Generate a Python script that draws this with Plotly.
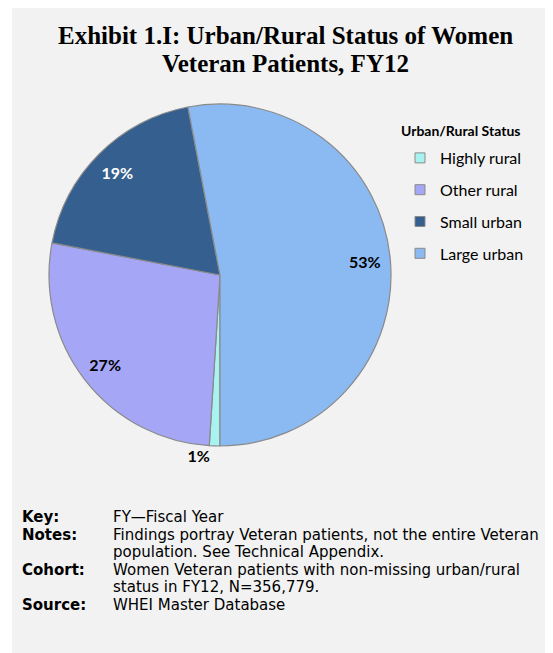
import plotly.graph_objects as go

categories = ["Highly rural", "Other rural", "Small urban", "Large urban"]
shares = [1, 27, 19, 53]
colors = ["#a8f2f0", "#a5a6f6", "#355f8e", "#8bbaf3"]
text_colors = ["black", "black", "white", "black"]
text_positions = ["outside", "inside", "inside", "inside"]

note_labels = ["Key:", "Notes:", "", "Cohort:", "", "Source:"]
note_values = [
    "FY\u2014Fiscal Year",
    "Findings portray Veteran patients, not the entire Veteran",
    "population. See Technical Appendix.",
    "Women Veteran patients with non-missing urban/rural",
    "status in FY12, N=356,779.",
    "WHEI Master Database",
]

OFF = 8  # page body margin
W, H = 545, 645
FONT = "Lato, 'Open Sans', sans-serif"
NOTE_FONT = "'DejaVu Sans', sans-serif"


def px(x):
    return (x - OFF) / W


def py(y):
    return 1 - (y - OFF) / H


pie_domain = dict(x=[px(49), px(391)], y=[py(446), py(104)])

fig = go.Figure()

fig.add_trace(go.Pie(
    labels=categories,
    values=shares,
    sort=False,
    direction="clockwise",
    rotation=180,
    marker=dict(colors=colors, line=dict(color="#8a8a8a", width=1.2)),
    textinfo="none",
    showlegend=False,
    hoverinfo="label+percent",
    domain=pie_domain,
))

# label layer: same slices, placed in an outer ring so labels sit near the rim
fig.add_trace(go.Pie(
    labels=categories,
    values=shares,
    sort=False,
    direction="clockwise",
    rotation=180,
    hole=0.7,
    marker=dict(colors=["rgba(0,0,0,0)"] * len(categories), line=dict(width=0)),
    texttemplate="<b>%{value}%</b>",
    textposition=text_positions,
    insidetextorientation="horizontal",
    insidetextfont=dict(color=text_colors, size=16, family=FONT),
    outsidetextfont=dict(color="black", size=16, family=FONT),
    showlegend=False,
    hoverinfo="skip",
    domain=pie_domain,
))

# legend entries (one group per category for spacing)
for cat, col in zip(categories, colors):
    fig.add_trace(go.Scatter(
        x=[None], y=[None], mode="markers", name=cat, legendgroup=cat,
        marker=dict(symbol="square", size=10, color=col, line=dict(color="#8a8a8a", width=1)),
    ))

fig.add_shape(type="rect", xref="paper", yref="paper",
              x0=px(12), x1=1.02, y0=-0.02, y1=py(7),
              fillcolor="#f2f2f2", line=dict(width=0), layer="below")

title_lines = ["Exhibit 1.I: Urban/Rural Status of Women", "Veteran Patients, FY12"]
for i, t in enumerate(title_lines):
    fig.add_annotation(
        text="<b>" + t + "</b>",
        xref="paper", yref="paper", x=px(285), y=py(36 + i * 27),
        xanchor="center", yanchor="middle", showarrow=False,
        font=dict(family="'Liberation Serif', 'DejaVu Serif', serif", size=25, color="black"),
    )

fig.add_annotation(
    text="<b>Urban/Rural Status</b>", xref="paper", yref="paper",
    x=px(460), y=py(131), xanchor="center", yanchor="middle", showarrow=False,
    font=dict(family=FONT, size=14, color="black"),
)

line_h = 17.5
for i, (lab, val) in enumerate(zip(note_labels, note_values)):
    yy = 517 + i * line_h
    if lab:
        fig.add_annotation(text="<b>" + lab + "</b>", xref="paper", yref="paper",
                           x=px(21), y=py(yy), xanchor="left", yanchor="middle",
                           showarrow=False, borderpad=0,
                           font=dict(family=NOTE_FONT, size=15, color="black"))
    fig.add_annotation(text=val, xref="paper", yref="paper",
                       x=px(112), y=py(yy), xanchor="left", yanchor="middle",
                       showarrow=False, borderpad=0,
                       font=dict(family=NOTE_FONT, size=15, color="black"))

fig.update_layout(
    width=W, height=H,
    margin=dict(l=0, r=0, t=0, b=0),
    paper_bgcolor="white", plot_bgcolor="rgba(0,0,0,0)",
    xaxis=dict(visible=False), yaxis=dict(visible=False),
    showlegend=True,
    legend=dict(
        x=px(400), y=py(141), xanchor="left", yanchor="top",
        bgcolor="rgba(0,0,0,0)", font=dict(family=FONT, size=16, color="black"),
        tracegroupgap=8, itemwidth=30,
    ),
)

fig.write_html("out.html")
